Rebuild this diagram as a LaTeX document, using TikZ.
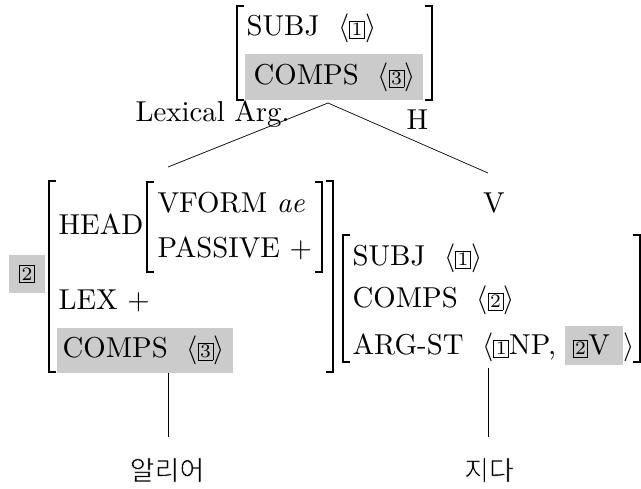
\documentclass[tikz,border=0pt]{standalone}
\usepackage{fontspec}
\newfontfamily\kr{Noto Sans CJK KR}
\definecolor{avmgray}{RGB}{203,203,203}
\newcommand{\tg}[1]{{\fontsize{6.6}{6.6}\selectfont\setlength{\fboxsep}{0.55pt}\setlength{\fboxrule}{0.3pt}\fbox{#1}}}
\newcommand{\avsp}{\hspace{6.5pt}}
\newcommand{\avmL}[3]{\draw[brk] ({#1+7},#2) -- (#1,#2) -- (#1,#3) -- ({#1+7},#3);}
\newcommand{\avmR}[3]{\draw[brk] ({#1-7},#2) -- (#1,#2) -- (#1,#3) -- ({#1-7},#3);}
\newcommand{\thinkr}[1]{\special{pdf:literal direct 2 Tr 0.55 w 1 1 1 RG}#1\special{pdf:literal direct 0 Tr 0 0 0 RG}}
\tikzset{
  txt/.style={inner sep=0pt, anchor=base west, scale=2.88},
  brk/.style={line width=1.2pt},
  edge/.style={line width=0.7pt},
  graybox/.style={fill=avmgray},
  word/.style={inner sep=0pt, font=\kr\fontsize{27}{30}\selectfont}
}
\begin{document}
\begin{tikzpicture}[x=1pt,y=-1pt, font=\fontsize{10}{12}\selectfont]
\useasboundingbox (0,0) rectangle (641,489);
% ---------- top AVM
\fill[graybox] (245,54) rectangle (423,100);
\avmL{237}{6}{100}
\avmR{432}{6}{100}
\node[txt] (ts) at (246,36) {SUBJ\avsp$\langle$\tg{1}$\rangle$};
\node[txt] (tc) at (253,85) {COMPS\avsp$\langle$\tg{3}$\rangle$};
\coordinate (apex) at (328,103);
\node[txt] (lexarg) at (135,122) {Lexical Arg.};
\node[txt] (hlab) at (406,130) {H};
% ---------- left daughter AVM
\coordinate (ltop) at (168,167);
\fill[graybox] (9,255) rectangle (45,293);
\node[inner sep=0pt, scale=2.88] (tag2) at (27,274) {\tg{2}};
\avmL{49}{181}{372}
\avmR{333}{181}{372}
\node[txt] (head) at (58,235) {HEAD};
\avmL{147}{182}{272}
\avmR{322}{182}{272}
\node[txt] (vform) at (157,213) {VFORM \textit{ae}};
\node[txt] (pass) at (157,258) {PASSIVE $+$};
\node[txt] (lex) at (58,310) {LEX $+$};
\fill[graybox] (57,328) rectangle (233,373);
\node[txt] (lc) at (62,358) {COMPS\avsp$\langle$\tg{3}$\rangle$};
\coordinate (lbot) at (168,373);
\coordinate (lword) at (168,437);
% ---------- head daughter
\node[inner sep=0pt, anchor=base, scale=2.88] (vlab) at (494,213) {V};
\coordinate (rtop) at (488,173);
\avmL{343}{235}{362}
\avmR{640}{235}{362}
\node[txt] (rs) at (352,266) {SUBJ\avsp$\langle$\tg{1}$\rangle$};
\node[txt] (rc) at (352,308) {COMPS\avsp$\langle$\tg{2}$\rangle$};
\fill[graybox] (565,326) rectangle (623,365);
\node[txt] (ra) at (352,355) {ARG-ST\avsp$\langle$\tg{1}NP,};
\node[txt] (r2v) at (572,355) {\tg{2}V};
\node[txt] (rang) at (623,355) {$\rangle$};
\coordinate (rbot) at (488,368);
\coordinate (rword) at (488,437);
% ---------- edges
\draw[edge] (apex) -- (ltop);
\draw[edge] (apex) -- (rtop);
\draw[edge] (lbot) -- (lword);
\draw[edge] (rbot) -- (rword);
% ---------- words
\node[word] (w1) at (167,470) {\thinkr{알리어}};
\node[word] (w2) at (489,470) {\thinkr{지다}};
\end{tikzpicture}
\end{document}
